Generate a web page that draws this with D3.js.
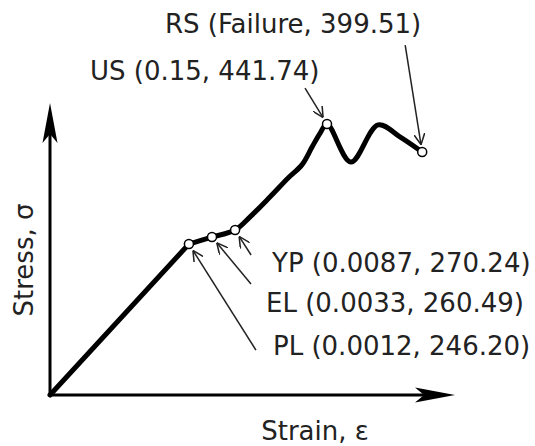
<!DOCTYPE html>
<html>
<head>
<meta charset="utf-8">
<script src="https://cdn.jsdelivr.net/npm/d3@7"></script>
<style>
  body { margin: 0; background: #fff; }
  text { font-family: "DejaVu Sans", Verdana, sans-serif; fill: #222; }
</style>
</head>
<body>
<svg id="chart"></svg>
<script>
// schematic curve, in chart units (0-100 on both axes)
var strain = [0, 34.3, 40.0, 45.7, 49.4, 54.3, 58.8, 62.2, 64.7, 66.7, 68.4, 74.3, 81.0, 86.4, 91.9];
var stress = [0, 51.7, 54.1, 56.5, 61.0, 67.8, 74.3, 78.8, 84.9, 89.7, 92.8, 79.8, 92.5, 88.4, 83.2];

// annotated points
var markNames = ["PL", "EL", "YP", "US", "RS"];
var markIndex = [1, 2, 3, 10, 14];
var markStrain = ["0.0012", "0.0033", "0.0087", "0.15", "Failure"];
var markStress = ["246.20", "260.49", "270.24", "441.74", "399.51"];

var axisTitles = ["Strain, ε", "Stress, σ"];

var width = 535, height = 446;

var svg = d3.select("#chart")
  .attr("width", width)
  .attr("height", height);

var x = d3.scaleLinear().domain([0, 100]).range([50, 455]);
var y = d3.scaleLinear().domain([0, 100]).range([395, 103]);

// label layout: text left/baseline, arrow tail offset from the point
var labelPos = {
  PL: [273, 355], EL: [266, 312], YP: [272, 272], US: [90, 80], RS: [165, 33]
};
var tailOffset = {
  PL: [67, 106], EL: [39, 47], YP: [16, 25], US: [-22, -36], RS: [-17, -107]
};

var defs = svg.append("defs");
defs.append("marker")
  .attr("id", "vhead")
  .attr("viewBox", "0 0 10 10")
  .attr("refX", 10)
  .attr("refY", 5)
  .attr("markerWidth", 11)
  .attr("markerHeight", 11)
  .attr("markerUnits", "userSpaceOnUse")
  .attr("orient", "auto")
  .append("path")
  .attr("d", "M0,0 L10,5 L0,10")
  .attr("fill", "none")
  .attr("stroke", "#222")
  .attr("stroke-width", 1.4);

// axes
var axisGroup = svg.append("g").attr("class", "axes");
axisGroup.append("line")
  .attr("x1", x(0)).attr("y1", y(0))
  .attr("x2", x(100) - 20).attr("y2", y(0))
  .attr("stroke", "#000").attr("stroke-width", 3);
axisGroup.append("line")
  .attr("x1", x(0)).attr("y1", y(0) + 1.5)
  .attr("x2", x(0)).attr("y2", y(100) + 20)
  .attr("stroke", "#000").attr("stroke-width", 3);

var headLen = 40, headW = 7.5, notch = 9;
axisGroup.append("path")
  .attr("d", "M" + x(100) + "," + y(0) +
    "L" + (x(100) - headLen) + "," + (y(0) - headW) +
    "L" + (x(100) - headLen + notch) + "," + y(0) +
    "L" + (x(100) - headLen) + "," + (y(0) + headW) + "Z")
  .attr("fill", "#000");
axisGroup.append("path")
  .attr("d", "M" + x(0) + "," + y(100) +
    "L" + (x(0) - headW) + "," + (y(100) + headLen) +
    "L" + x(0) + "," + (y(100) + headLen - notch) +
    "L" + (x(0) + headW) + "," + (y(100) + headLen) + "Z")
  .attr("fill", "#000");

axisGroup.append("text")
  .attr("x", 315)
  .attr("y", 440)
  .attr("text-anchor", "middle")
  .attr("font-size", 26)
  .text(axisTitles[0]);
axisGroup.append("text")
  .attr("transform", "translate(33,260) rotate(-90)")
  .attr("text-anchor", "middle")
  .attr("font-size", 26)
  .text(axisTitles[1]);

// curve: straight elastic part up to PL, smooth afterwards
var pts = strain.map(function (d, i) { return [d, stress[i]]; });
var plastic = d3.line()
  .x(function (d) { return x(d[0]); })
  .y(function (d) { return y(d[1]); })
  .curve(d3.curveCatmullRom.alpha(0.5));
var elastic = d3.line()
  .x(function (d) { return x(d[0]); })
  .y(function (d) { return y(d[1]); });

var curveGroup = svg.append("g").attr("class", "curve")
  .attr("fill", "none")
  .attr("stroke", "#000")
  .attr("stroke-width", 5)
  .attr("stroke-linejoin", "round")
  .attr("stroke-linecap", "round");
curveGroup.append("path").attr("d", elastic(pts.slice(0, markIndex[0] + 1)));
curveGroup.append("path").attr("d", plastic(pts.slice(markIndex[0])));

// annotations
var marks = markNames.map(function (n, i) {
  var k = markIndex[i];
  return { name: n, px: x(strain[k]), py: y(stress[k]),
    label: n + " (" + markStrain[i] + ", " + markStress[i] + ")" };
});

var radius = 4.5;
var ann = svg.append("g").attr("class", "annotations");

ann.selectAll("line")
  .data(marks)
  .enter().append("line")
  .each(function (d) {
    var o = tailOffset[d.name];
    var len = Math.sqrt(o[0] * o[0] + o[1] * o[1]);
    var gap = radius + 3;
    d3.select(this)
      .attr("x1", d.px + o[0]).attr("y1", d.py + o[1])
      .attr("x2", d.px + o[0] / len * gap).attr("y2", d.py + o[1] / len * gap);
  })
  .attr("stroke", "#222")
  .attr("stroke-width", 1.5)
  .attr("marker-end", "url(#vhead)");

ann.selectAll("circle")
  .data(marks)
  .enter().append("circle")
  .attr("cx", function (d) { return d.px; })
  .attr("cy", function (d) { return d.py; })
  .attr("r", radius)
  .attr("fill", "#fff")
  .attr("stroke", "#000")
  .attr("stroke-width", 1.5);

ann.selectAll("text")
  .data(marks)
  .enter().append("text")
  .attr("x", function (d) { return labelPos[d.name][0]; })
  .attr("y", function (d) { return labelPos[d.name][1]; })
  .attr("font-size", 26)
  .text(function (d) { return d.label; });
</script>
</body>
</html>
